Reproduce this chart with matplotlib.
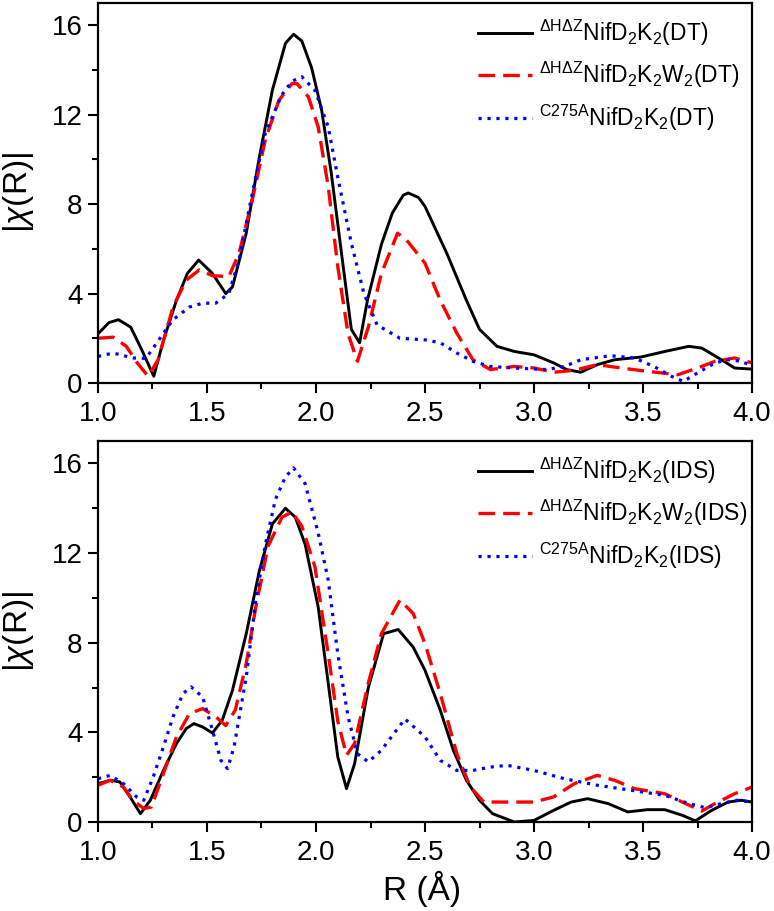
import matplotlib
matplotlib.use("Agg")
import matplotlib.pyplot as plt

plt.rcParams["font.family"] = ["Liberation Sans", "DejaVu Sans"]
plt.rcParams["mathtext.fontset"] = "custom"
plt.rcParams["mathtext.rm"] = "Liberation Sans"
plt.rcParams["mathtext.it"] = "Liberation Sans:italic"
plt.rcParams["mathtext.bf"] = "Liberation Sans:bold"

# ---- top panel (DT) ----
r_dt_black = [1.0, 1.05, 1.094, 1.15, 1.2, 1.256, 1.30, 1.36, 1.41, 1.462, 1.525, 1.586,
              1.617, 1.68, 1.74, 1.80, 1.86, 1.897, 1.935, 1.98, 2.026, 2.07, 2.117,
              2.162, 2.20, 2.236, 2.30, 2.35, 2.40, 2.423, 2.47, 2.5, 2.6, 2.69, 2.75,
              2.83, 2.91, 3.0, 3.09, 3.15, 3.215, 3.29, 3.37, 3.49, 3.6, 3.71, 3.77,
              3.86, 3.92, 4.0]
chi_dt_black = [2.2, 2.7, 2.83, 2.5, 1.5, 0.3, 1.9, 3.7, 4.9, 5.5, 4.9, 4.0,
                4.3, 6.7, 10.1, 13.1, 15.2, 15.6, 15.3, 14.1, 12.2, 9.4, 5.8,
                2.4, 1.8, 3.7, 6.2, 7.6, 8.4, 8.5, 8.3, 7.9, 5.8, 3.7, 2.4,
                1.64, 1.41, 1.26, 0.9, 0.6, 0.48, 0.82, 1.04, 1.16, 1.41, 1.64, 1.56,
                1.04, 0.67, 0.62]

r_dt_red = [1.0, 1.07, 1.13, 1.18, 1.23, 1.276, 1.344, 1.405, 1.465, 1.525, 1.60, 1.647,
            1.708, 1.768, 1.83, 1.89, 1.912, 1.965, 2.01, 2.056, 2.10, 2.147, 2.19,
            2.24, 2.30, 2.374, 2.415, 2.5, 2.57, 2.646, 2.72, 2.8, 2.91, 3.0, 3.09,
            3.185, 3.29, 3.4, 3.52, 3.66, 3.75, 3.83, 3.92, 4.0]
chi_dt_red = [2.0, 2.05, 1.64, 0.9, 0.3, 1.04, 3.4, 4.6, 5.06, 4.8, 4.76, 5.8,
              8.2, 10.9, 12.65, 13.4, 13.4, 12.8, 11.46, 8.8, 5.2, 2.2, 0.97,
              2.5, 4.9, 6.7, 6.4, 5.36, 3.7, 2.23, 1.04, 0.6, 0.74, 0.67, 0.48,
              0.57, 0.82, 0.67, 0.52, 0.37, 0.67, 0.97, 1.12, 0.9]

r_dt_blue = [1.0, 1.07, 1.16, 1.22, 1.27, 1.344, 1.42, 1.48, 1.54, 1.6, 1.647, 1.708,
             1.768, 1.844, 1.89, 1.935, 1.995, 2.056, 2.10, 2.162, 2.22, 2.28, 2.385,
             2.5, 2.57, 2.646, 2.72, 2.8, 2.91, 3.06, 3.14, 3.215, 3.35, 3.46, 3.55,
             3.63, 3.685, 3.75, 3.83, 3.89, 3.95, 4.0]
chi_dt_blue = [1.19, 1.34, 1.12, 1.1, 1.8, 2.83, 3.4, 3.57, 3.57, 4.0, 5.5, 8.5,
               11.2, 12.9, 13.5, 13.7, 13.1, 11.46, 9.2, 6.25, 4.0, 2.6, 2.0,
               1.93, 1.8, 1.34, 0.97, 0.74, 0.67, 0.6, 0.74, 1.04, 1.22, 1.12, 0.74,
               0.3, 0.07, 0.45, 0.9, 1.04, 0.97, 0.77]

# ---- bottom panel (IDS) ----
r_ids_black = [1.0, 1.056, 1.10, 1.147, 1.195, 1.24, 1.30, 1.36, 1.405, 1.44, 1.48, 1.525,
               1.57, 1.617, 1.68, 1.74, 1.80, 1.86, 1.905, 1.95, 2.01, 2.056, 2.10,
               2.14, 2.177, 2.24, 2.31, 2.377, 2.446, 2.5, 2.57, 2.63, 2.69, 2.75,
               2.81, 2.91, 3.0, 3.09, 3.17, 3.246, 3.34, 3.43, 3.52, 3.6, 3.68, 3.74,
               3.815, 3.89, 3.95, 4.0]
chi_ids_black = [1.71, 1.86, 1.79, 1.12, 0.37, 0.97, 2.3, 3.5, 4.17, 4.39, 4.24, 3.97,
                 4.54, 5.88, 8.4, 11.2, 13.3, 14.0, 13.6, 12.4, 9.6, 6.2, 2.9,
                 1.49, 2.6, 6.0, 8.4, 8.59, 7.8, 6.77, 4.99, 3.2, 1.86, 0.97,
                 0.37, 0.0, 0.07, 0.52, 0.89, 1.04, 0.82, 0.45, 0.55, 0.55, 0.3, 0.05,
                 0.52, 0.89, 0.97, 0.89]

r_ids_red = [1.0, 1.056, 1.117, 1.16, 1.21, 1.245, 1.30, 1.36, 1.42, 1.48, 1.54, 1.586,
             1.63, 1.68, 1.724, 1.78, 1.844, 1.89, 1.935, 1.995, 2.056, 2.10, 2.14,
             2.177, 2.24, 2.30, 2.385, 2.446, 2.5, 2.57, 2.646, 2.708, 2.77, 2.877,
             3.0, 3.09, 3.185, 3.29, 3.37, 3.46, 3.6, 3.68, 3.77, 3.83, 3.92, 4.0]
chi_ids_red = [1.64, 1.86, 1.56, 0.97, 0.6, 0.67, 2.16, 3.8, 4.84, 5.06, 4.7, 4.3,
               5.0, 7.07, 9.6, 12.3, 13.6, 13.84, 13.2, 11.4, 7.5, 4.5, 2.98,
               3.5, 6.2, 8.4, 9.9, 9.3, 7.96, 5.73, 3.05, 1.56, 0.89, 0.89,
               0.89, 1.12, 1.71, 2.08, 1.86, 1.49, 1.26, 0.89, 0.49, 0.82, 1.26, 1.56]

r_ids_blue = [1.0, 1.056, 1.117, 1.177, 1.21, 1.253, 1.30, 1.344, 1.39, 1.427, 1.48, 1.525,
              1.564, 1.594, 1.624, 1.68, 1.724, 1.768, 1.814, 1.86, 1.897, 1.95, 2.01,
              2.056, 2.10, 2.147, 2.19, 2.24, 2.30, 2.408, 2.5, 2.57, 2.646, 2.72,
              2.8, 2.877, 3.0, 3.14, 3.29, 3.45, 3.6, 3.71, 3.785, 3.86, 3.93, 4.0]
chi_ids_blue = [1.93, 2.08, 1.71, 1.12, 0.97, 2.0, 3.35, 4.69, 5.73, 6.03, 5.58, 4.1,
                2.75, 2.38, 3.35, 6.47, 9.9, 12.4, 14.4, 15.4, 15.8, 15.1, 12.9,
                10.8, 7.5, 4.7, 3.05, 2.68, 3.2, 4.6, 3.8, 2.75, 2.3, 2.3,
                2.45, 2.53, 2.3, 1.93, 1.64, 1.41, 1.19, 0.82, 0.64, 0.82, 0.97, 0.89]

labels_dt = [r"$^{\mathregular{ΔHΔZ}}$NifD$_\mathregular{2}$K$_\mathregular{2}$(DT)",
             r"$^{\mathregular{ΔHΔZ}}$NifD$_\mathregular{2}$K$_\mathregular{2}$W$_\mathregular{2}$(DT)",
             r"$^{\mathregular{C275A}}$NifD$_\mathregular{2}$K$_\mathregular{2}$(DT)"]
labels_ids = [r"$^{\mathregular{ΔHΔZ}}$NifD$_\mathregular{2}$K$_\mathregular{2}$(IDS)",
              r"$^{\mathregular{ΔHΔZ}}$NifD$_\mathregular{2}$K$_\mathregular{2}$W$_\mathregular{2}$(IDS)",
              r"$^{\mathregular{C275A}}$NifD$_\mathregular{2}$K$_\mathregular{2}$(IDS)"]

fig = plt.figure(figsize=(7.74, 9.11), dpi=100)
ax1 = fig.add_axes([0.1266, 0.5796, 0.845, 0.4171])
ax2 = fig.add_axes([0.1266, 0.0977, 0.845, 0.4182])

styles = [dict(color="black", lw=2.1, ls="-"),
          dict(color="#ff0000", lw=2.4, ls=(0, (5, 2.4))),
          dict(color="#0000ff", lw=2.3, ls=(0, (1, 1.8)))]

panels = [
    (ax1, [(r_dt_black, chi_dt_black), (r_dt_red, chi_dt_red), (r_dt_blue, chi_dt_blue)], labels_dt),
    (ax2, [(r_ids_black, chi_ids_black), (r_ids_red, chi_ids_red), (r_ids_blue, chi_ids_blue)], labels_ids),
]

for ax, series, labels in panels:
    for (r, chi), st, lab in zip(series, styles, labels):
        ax.plot(r, chi, label=lab, **st)
    ax.set_xlim(1.0, 4.0)
    ax.set_ylim(0, 17)
    ax.set_xticks([1.0, 1.5, 2.0, 2.5, 3.0, 3.5, 4.0])
    ax.set_xticks([1.25, 1.75, 2.25, 2.75, 3.25, 3.75], minor=True)
    ax.set_yticks([0, 4, 8, 12, 16])
    ax.set_yticks([2, 6, 10, 14], minor=True)
    ax.set_xticklabels(["1.0", "1.5", "2.0", "2.5", "3.0", "3.5", "4.0"])
    ax.tick_params(which="major", length=7, width=1.5, labelsize=20, direction="out")
    ax.tick_params(which="minor", length=4, width=1.5, direction="out")
    ax.tick_params(axis="x", pad=6)
    ax.tick_params(axis="y", pad=4)
    for sp in ax.spines.values():
        sp.set_linewidth(1.6)
    ax.set_ylabel(r"|$\chi$(R)|", fontsize=24, va="center")
    ax.yaxis.set_label_coords(-0.121, 0.5)
    ax.legend(loc="upper left", bbox_to_anchor=(0.581, 0.962), frameon=False,
              fontsize=16.5, handlelength=2.35, handletextpad=0.3,
              labelspacing=0.55, borderpad=0, borderaxespad=0)

ax2.set_xlabel("R (Å)", fontsize=24, va="center")
ax2.xaxis.set_label_coords(0.495, -0.176)

fig.savefig("out.png", dpi=100)
